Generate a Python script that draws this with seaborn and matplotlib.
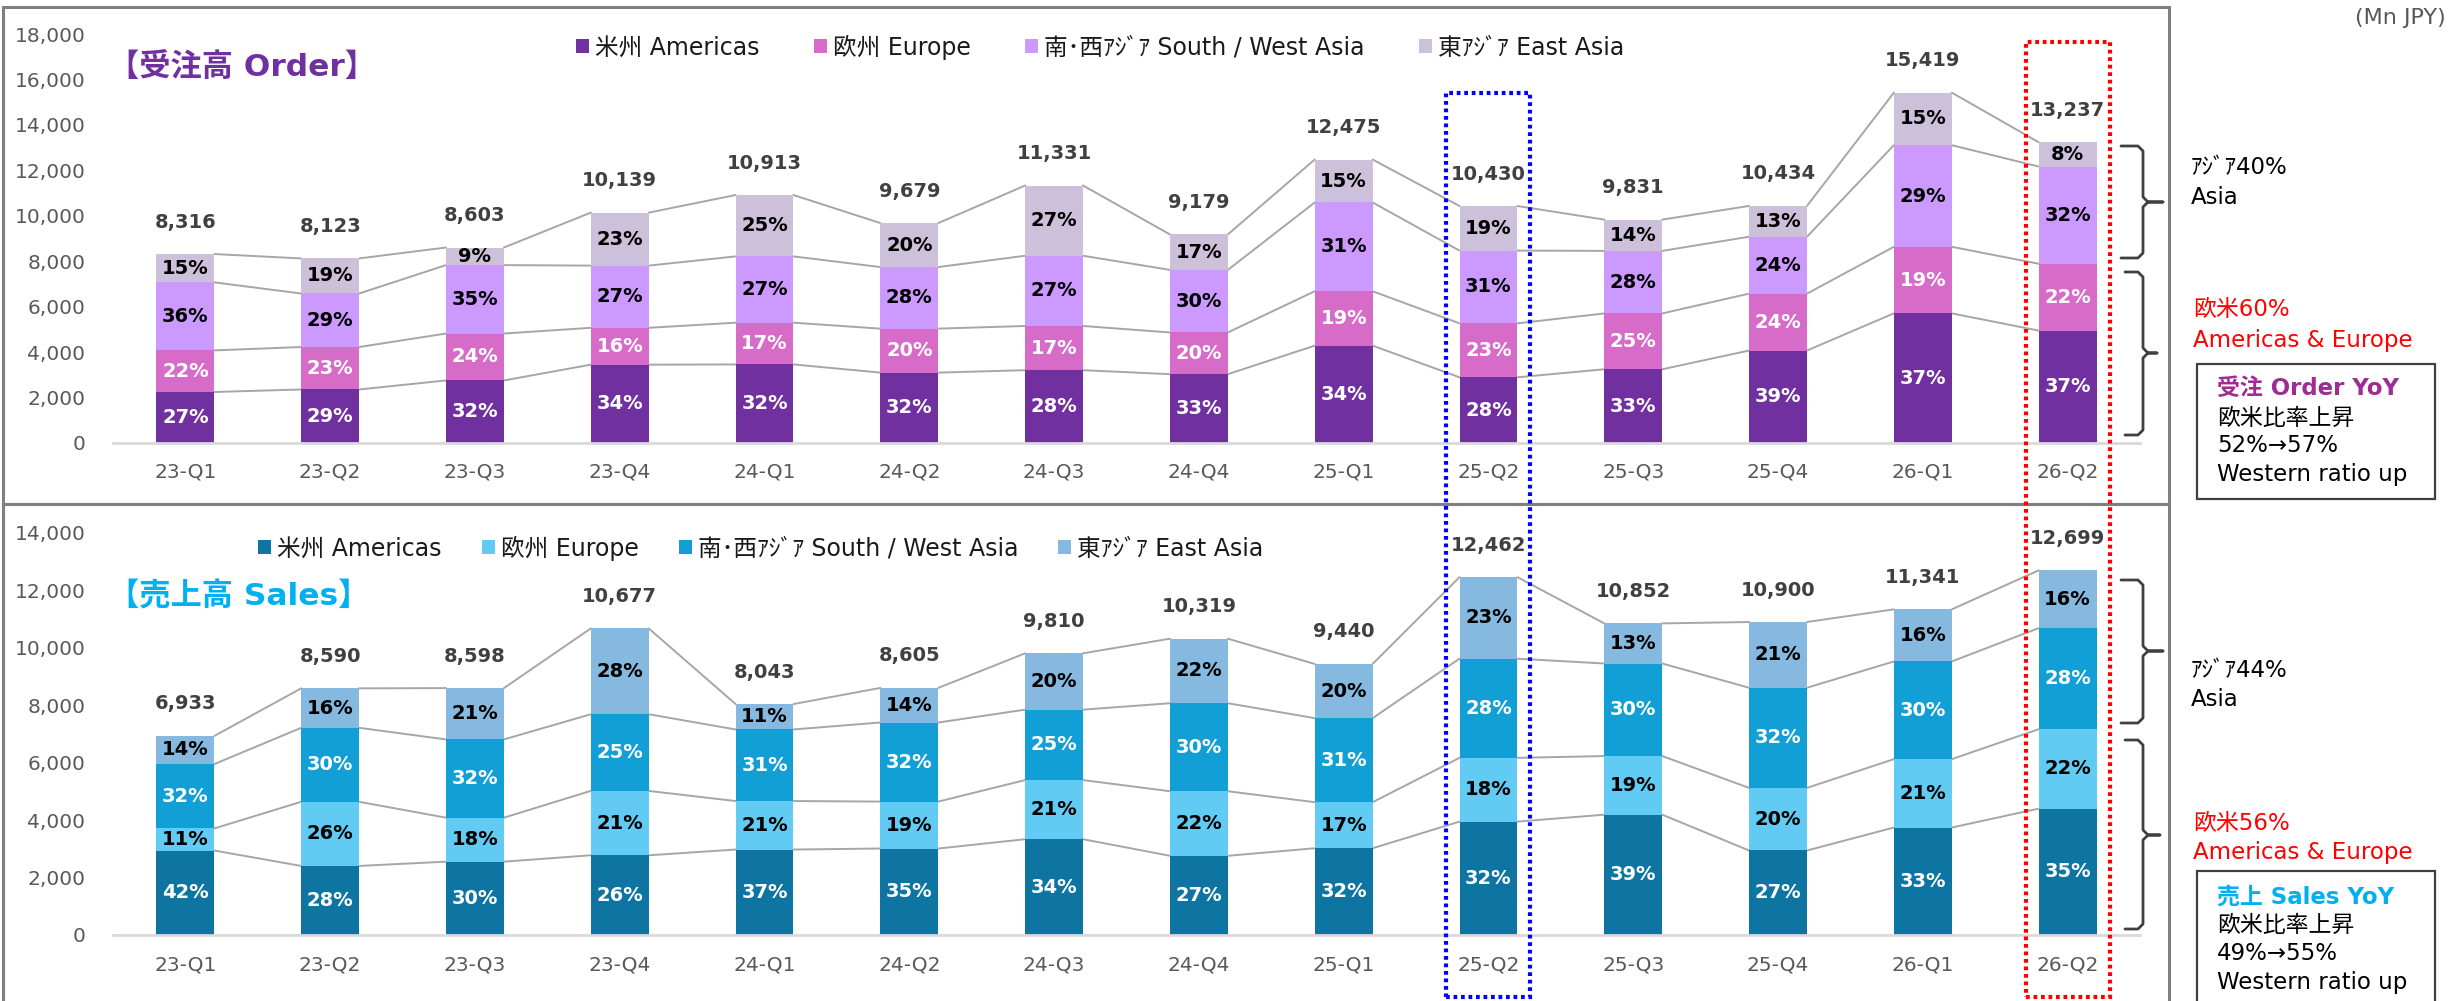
import matplotlib
matplotlib.use('Agg')
import matplotlib.pyplot as plt
import matplotlib.transforms as mtransforms
from matplotlib.patches import Patch, Rectangle
from matplotlib.lines import Line2D
from matplotlib.ticker import FuncFormatter
import seaborn as sns
import numpy as np

# ---- data -------------------------------------------------------------
quarters = ['23-Q1', '23-Q2', '23-Q3', '23-Q4', '24-Q1', '24-Q2', '24-Q3',
            '24-Q4', '25-Q1', '25-Q2', '25-Q3', '25-Q4', '26-Q1', '26-Q2']
regions = ['米州 Americas', '欧州 Europe', '南･西ｱｼﾞｱ South / West Asia', '東ｱｼﾞｱ East Asia']

order_total = [8316, 8123, 8603, 10139, 10913, 9679, 11331, 9179, 12475, 10430, 9831, 10434, 15419, 13237]
order_americas = [27, 29, 32, 34, 32, 32, 28, 33, 34, 28, 33, 39, 37, 37]
order_europe = [22, 23, 24, 16, 17, 20, 17, 20, 19, 23, 25, 24, 19, 22]
order_sw_asia = [36, 29, 35, 27, 27, 28, 27, 30, 31, 31, 28, 24, 29, 32]
order_east_asia = [15, 19, 9, 23, 25, 20, 27, 17, 15, 19, 14, 13, 15, 8]

sales_total = [6933, 8590, 8598, 10677, 8043, 8605, 9810, 10319, 9440, 12462, 10852, 10900, 11341, 12699]
sales_americas = [42, 28, 30, 26, 37, 35, 34, 27, 32, 32, 39, 27, 33, 35]
sales_europe = [11, 26, 18, 21, 21, 19, 21, 22, 17, 18, 19, 20, 21, 22]
sales_sw_asia = [32, 30, 32, 25, 31, 32, 25, 30, 31, 28, 30, 32, 30, 28]
sales_east_asia = [14, 16, 21, 28, 11, 14, 20, 22, 20, 23, 13, 21, 16, 16]

order_colors = ['#7030A0', '#D66CC8', '#CC99FF', '#CCC0DA']
order_txt = ['white', 'white', 'black', 'black']
sales_colors = ['#0E75A2', '#62CBF3', '#119FD6', '#86B9DF']
sales_txt = ['white', 'black', 'white', 'black']

# ---- style ------------------------------------------------------------
sns.set_style('white')
plt.rcParams['font.family'] = ['DejaVu Sans', 'Noto Sans CJK JP']

W, H = 2448, 1001
BAR_W = 0.40
fig = plt.figure(figsize=(W / 100, H / 100), dpi=100)
fig.patch.set_facecolor('white')


def fx(x):
    return x / W


def fy(y):
    return 1 - y / H


def draw_panel(ax, totals, pcts, colors, txt_colors, yticks, xpad):
    p = np.array(pcts, dtype=float)
    seg = p / p.sum(axis=0) * np.array(totals, dtype=float)
    cum = np.cumsum(seg, axis=0)
    n = len(quarters)

    # stacked bars: draw cumulative heights from the top down
    for k in reversed(range(4)):
        sns.barplot(x=quarters, y=cum[k], color=colors[k], saturation=1,
                    width=BAR_W, errorbar=None, ax=ax, linewidth=0, zorder=2)

    # series lines
    for k in range(4):
        for i in range(n - 1):
            ax.plot([i + BAR_W / 2, i + 1 - BAR_W / 2], [cum[k][i], cum[k][i + 1]],
                    color='#A6A6A6', lw=1.4, zorder=1)

    # percentage labels
    for k in range(4):
        for i in range(n):
            ax.text(i, cum[k][i] - seg[k][i] / 2, f'{pcts[k][i]}%', ha='center', va='center',
                    fontsize=14, fontweight='bold', color=txt_colors[k], zorder=3)

    # totals
    for i in range(n):
        ax.annotate(f'{totals[i]:,}', (i, cum[3][i]), xytext=(0, 23), textcoords='offset points',
                    ha='center', va='center', fontsize=14, fontweight='bold', color='#404040')

    ax.set_xlim(-0.5, n - 0.5)
    ax.set_ylim(yticks[0], yticks[-1])
    ax.set_yticks(yticks)
    ax.yaxis.set_major_formatter(FuncFormatter(lambda v, _: f'{int(v):,}'))
    ax.tick_params(axis='y', length=0, labelsize=14.5, labelcolor='#595959', pad=20)
    ax.tick_params(axis='x', length=0, labelsize=14.5, labelcolor='#595959', pad=xpad)
    ax.set_xlabel('')
    ax.set_ylabel('')
    for s in ['left', 'top', 'right']:
        ax.spines[s].set_visible(False)
    ax.spines['bottom'].set_color('#D9D9D9')
    ax.spines['bottom'].set_linewidth(2)
    ax.patch.set_alpha(0)


ax_top = fig.add_axes([fx(113), fy(443), fx(2140 - 113), (443 - 34) / H])
ax_bot = fig.add_axes([fx(113), fy(935), fx(2140 - 113), (935 - 533) / H])

draw_panel(ax_top, order_total, [order_americas, order_europe, order_sw_asia, order_east_asia],
           order_colors, order_txt, list(range(0, 18001, 2000)), 14)
draw_panel(ax_bot, sales_total, [sales_americas, sales_europe, sales_sw_asia, sales_east_asia],
           sales_colors, sales_txt, list(range(0, 14001, 2000)), 15)

# legends
for ax, colors, cx, cy, gap in [(ax_top, order_colors, 1100, 47, 2.3), (ax_bot, sales_colors, 761, 548, 1.7)]:
    handles = [Patch(facecolor=c, edgecolor='none', label=l) for c, l in zip(colors, regions)]
    ax.legend(handles=handles, loc='center', bbox_to_anchor=(fx(cx), fy(cy)),
              bbox_transform=fig.transFigure, ncol=4, frameon=False, fontsize=17,
              handlelength=0.55, handleheight=0.55, handletextpad=0.25, columnspacing=gap,
              labelcolor='#1a1a1a')

# panel titles
fig.text(fx(108), fy(67), '【受注高 Order】', fontsize=22.5, fontweight='bold', color='#7030A0',
         ha='left', va='center')
fig.text(fx(108), fy(596), '【売上高 Sales】', fontsize=22.5, fontweight='bold', color='#00B0F0',
         ha='left', va='center')
fig.text(fx(2446), fy(18), '(Mn JPY)', fontsize=16, color='#595959', ha='right', va='center')

# panel frames
fig.add_artist(Rectangle((fx(3), fy(504)), fx(2169 - 3), (504 - 7) / H, transform=fig.transFigure,
                         fill=False, ec='#7F7F7F', lw=2.2))
fig.add_artist(Rectangle((fx(3), fy(1012)), fx(2169 - 3), (1012 - 504) / H, transform=fig.transFigure,
                         fill=False, ec='#7F7F7F', lw=2.2))

# dotted highlight boxes
trans = mtransforms.blended_transform_factory(ax_top.transData, fig.transFigure)
for xi, ytop, col in [(9, 93, '#0000FF'), (13, 42, '#FF0000')]:
    fig.add_artist(Rectangle((xi - 0.29, fy(997)), 0.58, (997 - ytop) / H, transform=trans,
                             fill=False, ec=col, lw=3, ls=(0, (0.9, 0.9))))


# braces
def brace(x0, x1, x2, yt, ym, yb, r=5):
    pts = [(x0, yt), (x1 - r, yt), (x1, yt + r), (x1, ym - r), (x1 + r, ym), (x2, ym),
           (x1 + r, ym), (x1, ym + r), (x1, yb - r), (x1 - r, yb), (x0, yb)]
    xs = [fx(p[0]) for p in pts]
    ys = [fy(p[1]) for p in pts]
    fig.add_artist(Line2D(xs, ys, transform=fig.transFigure, color='#404040', lw=2,
                          solid_joinstyle='round'))


brace(2121, 2143, 2163, 146, 202, 258)
brace(2125, 2143, 2157, 272, 353, 435)
brace(2121, 2143, 2163, 580, 651, 723)
brace(2125, 2143, 2160, 740, 835, 929)

# right-hand notes
notes = [
    (2191, 168, 'ｱｼﾞｱ40%', 'black', 'normal'),
    (2191, 197, 'Asia', 'black', 'normal'),
    (2193, 310, '欧米60%', '#FF0000', 'normal'),
    (2193, 340, 'Americas & Europe', '#FF0000', 'normal'),
    (2217, 388, '受注 Order YoY', '#A02B93', 'bold'),
    (2217, 418, '欧米比率上昇', 'black', 'normal'),
    (2217, 446, '52%→57%', 'black', 'normal'),
    (2217, 475, 'Western ratio up', 'black', 'normal'),
    (2191, 671, 'ｱｼﾞｱ44%', 'black', 'normal'),
    (2191, 700, 'Asia', 'black', 'normal'),
    (2193, 823, '欧米56%', '#FF0000', 'normal'),
    (2193, 852, 'Americas & Europe', '#FF0000', 'normal'),
    (2217, 897, '売上 Sales YoY', '#00B0F0', 'bold'),
    (2217, 925, '欧米比率上昇', 'black', 'normal'),
    (2217, 954, '49%→55%', 'black', 'normal'),
    (2217, 983, 'Western ratio up', 'black', 'normal'),
]
for x, y, s, c, w in notes:
    fig.text(fx(x), fy(y), s, fontsize=16.5, color=c, fontweight=w, ha='left', va='center')

fig.add_artist(Rectangle((fx(2197), fy(499)), fx(2435 - 2197), (499 - 364) / H,
                         transform=fig.transFigure, fill=False, ec='#404040', lw=1.6))
fig.add_artist(Rectangle((fx(2197), fy(1012)), fx(2435 - 2197), (1012 - 871) / H,
                         transform=fig.transFigure, fill=False, ec='#404040', lw=1.6))

fig.savefig('out.png', dpi=100, facecolor='white')
